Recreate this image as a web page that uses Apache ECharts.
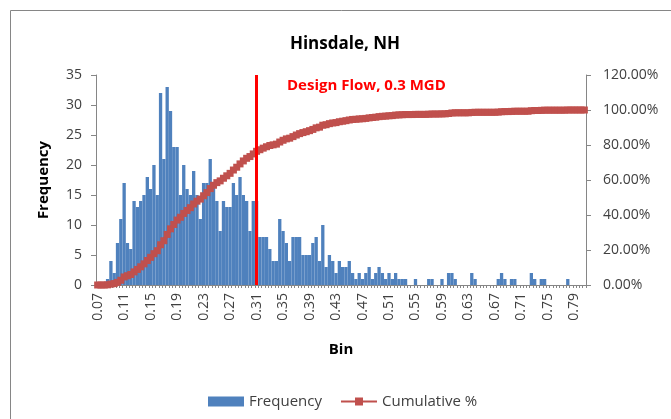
<!DOCTYPE html>
<html><head><meta charset="utf-8">
<script src="https://cdn.jsdelivr.net/npm/echarts@6/dist/echarts.min.js"></script>
<style>html,body{margin:0;padding:0;background:#fff}#c{width:671px;height:419px}</style>
</head><body><div id="c"></div>
<script>
// Bin upper bounds (MGD), step 0.005
const bins = [
'0.070','0.075','0.080','0.085','0.090','0.095','0.100','0.105','0.110','0.115',
'0.120','0.125','0.130','0.135','0.140','0.145','0.150','0.155','0.160','0.165',
'0.170','0.175','0.180','0.185','0.190','0.195','0.200','0.205','0.210','0.215',
'0.220','0.225','0.230','0.235','0.240','0.245','0.250','0.255','0.260','0.265',
'0.270','0.275','0.280','0.285','0.290','0.295','0.300','0.305','0.310','0.315',
'0.320','0.325','0.330','0.335','0.340','0.345','0.350','0.355','0.360','0.365',
'0.370','0.375','0.380','0.385','0.390','0.395','0.400','0.405','0.410','0.415',
'0.420','0.425','0.430','0.435','0.440','0.445','0.450','0.455','0.460','0.465',
'0.470','0.475','0.480','0.485','0.490','0.495','0.500','0.505','0.510','0.515',
'0.520','0.525','0.530','0.535','0.540','0.545','0.550','0.555','0.560','0.565',
'0.570','0.575','0.580','0.585','0.590','0.595','0.600','0.605','0.610','0.615',
'0.620','0.625','0.630','0.635','0.640','0.645','0.650','0.655','0.660','0.665',
'0.670','0.675','0.680','0.685','0.690','0.695','0.700','0.705','0.710','0.715',
'0.720','0.725','0.730','0.735','0.740','0.745','0.750','0.755','0.760','0.765',
'0.770','0.775','0.780','0.785','0.790','0.795','0.800','0.805'
];
const frequency = [
0,0,0,1,4,2,7,11,17,7,
6,14,13,14,15,18,16,20,15,32,
21,33,29,23,23,15,20,16,15,19,
15,11,17,17,21,17,14,9,14,13,
13,17,15,18,15,14,9,14,14,8,
8,8,6,4,4,11,9,7,4,8,
8,8,5,5,5,7,8,4,10,3,
5,4,2,4,3,3,4,2,1,2,
1,2,3,1,2,3,2,1,2,1,
2,1,1,1,0,0,1,0,0,0,
1,1,0,0,1,0,2,2,1,0,
0,0,0,2,1,0,0,0,0,0,
0,1,2,1,0,1,1,0,0,0,
0,2,1,0,1,1,0,0,0,0,
0,0,1,0,0,0,0,0
];
const cumulativePct = [
0,0,0,0.1,0.5,0.8,1.5,2.7,4.6,5.3,
6.0,7.5,8.9,10.4,12.1,14.0,15.8,17.9,19.6,23.0,
25.3,28.9,32.1,34.6,37.1,38.7,40.9,42.6,44.2,46.3,
47.9,49.1,51.0,52.8,55.1,57.0,58.5,59.5,61.0,62.4,
63.8,65.7,67.3,69.2,70.9,72.4,73.4,74.9,76.4,77.3,
78.2,79.0,79.7,80.1,80.5,81.7,82.7,83.5,83.9,84.8,
85.7,86.5,87.1,87.6,88.2,88.9,89.8,90.2,91.3,91.6,
92.2,92.6,92.8,93.3,93.6,93.9,94.3,94.6,94.7,94.9,
95.0,95.2,95.5,95.7,95.9,96.2,96.4,96.5,96.7,96.8,
97.1,97.2,97.3,97.4,97.4,97.4,97.5,97.5,97.5,97.5,
97.6,97.7,97.7,97.7,97.8,97.8,98.0,98.3,98.4,98.4,
98.4,98.4,98.4,98.6,98.7,98.7,98.7,98.7,98.7,98.7,
98.7,98.8,99.0,99.1,99.1,99.2,99.3,99.3,99.3,99.3,
99.3,99.6,99.7,99.7,99.8,99.9,99.9,99.9,99.9,99.9,
99.9,99.9,100,100,100,100,100,100
];
const freqTicks = [0,5,10,15,20,25,30,35];
const pctTicks = [0,20,40,60,80,100,120];
const designFlowBin = '0.310';
const designFlowLabel = 'Design Flow, 0.3 MGD';

const FONT = '"Open Sans", sans-serif';
const chart = echarts.init(document.getElementById('c'), null, {renderer:'canvas'});
chart.setOption({
  animation:false,
  backgroundColor:'#fff',
  title:{text:'Hinsdale, NH', left:340, top:31, textAlign:'center',
    textStyle:{fontFamily:FONT, fontSize:17, fontWeight:'bold', color:'#000'}},
  grid:{left:96, right:85, top:75, bottom:134},
  legend:{left:203, top:389, itemGap:18, itemWidth:36, itemHeight:10,
    textStyle:{fontFamily:FONT, fontSize:15, color:'#404040'},
    data:[{name:'Frequency', icon:'rect'},{name:'Cumulative %'}]},
  xAxis:{type:'category', data:bins, boundaryGap:true,
    axisLine:{lineStyle:{color:'#868686'}},
    axisTick:{show:true, interval:0, length:3, lineStyle:{color:'#868686'}},
    axisLabel:{interval:7, rotate:90, fontFamily:FONT, fontSize:14, color:'#404040', margin:8,
      formatter:v=>(+v).toFixed(2)},
    name:'Bin', nameLocation:'middle', nameGap:57,
    nameTextStyle:{fontFamily:FONT, fontSize:15, fontWeight:'bold', color:'#000'}},
  yAxis:[
    {type:'value', min:freqTicks[0], max:freqTicks[freqTicks.length-1], interval:freqTicks[1]-freqTicks[0],
     axisLine:{show:true, lineStyle:{color:'#868686'}},
     axisTick:{show:true, length:5, lineStyle:{color:'#868686'}},
     splitLine:{show:false},
     axisLabel:{fontFamily:FONT, fontSize:14, color:'#404040', margin:14},
     name:'Frequency', nameLocation:'middle', nameGap:45, nameRotate:90,
     nameTextStyle:{fontFamily:FONT, fontSize:15, fontWeight:'bold', color:'#000'}},
    {type:'value', position:'right', min:pctTicks[0], max:pctTicks[pctTicks.length-1], interval:pctTicks[1]-pctTicks[0],
     axisLine:{show:true, lineStyle:{color:'#868686'}},
     axisTick:{show:true, length:5, lineStyle:{color:'#868686'}},
     splitLine:{show:false},
     axisLabel:{fontFamily:FONT, fontSize:14, color:'#404040', margin:17,
       formatter:v=>v.toFixed(2)+'%'}}
  ],
  series:[
    {name:'Frequency', type:'bar', data:frequency, barCategoryGap:'0%',
     itemStyle:{color:'#4F81BD'}},
    {name:'Cumulative %', type:'line', yAxisIndex:1, data:cumulativePct,
     symbol:'rect', symbolSize:7, showAllSymbol:true,
     itemStyle:{color:'#C0504D'}, lineStyle:{color:'#C0504D', width:4},
     markLine:{silent:true, symbol:['none','none'], label:{show:false},
       lineStyle:{color:'#FF0000', width:3, type:'solid'},
       data:[{xAxis:designFlowBin}]}}
  ],
  graphic:[
    {type:'rect', shape:{x:10.5, y:10.5, width:700, height:500}, silent:true,
     style:{fill:'none', stroke:'#868686', lineWidth:1}},
    {type:'text', left:287, top:78, silent:true,
     style:{text:designFlowLabel, fill:'#FF0000', font:'bold 15px "Open Sans", sans-serif'}}
  ]
});
</script></body></html>
